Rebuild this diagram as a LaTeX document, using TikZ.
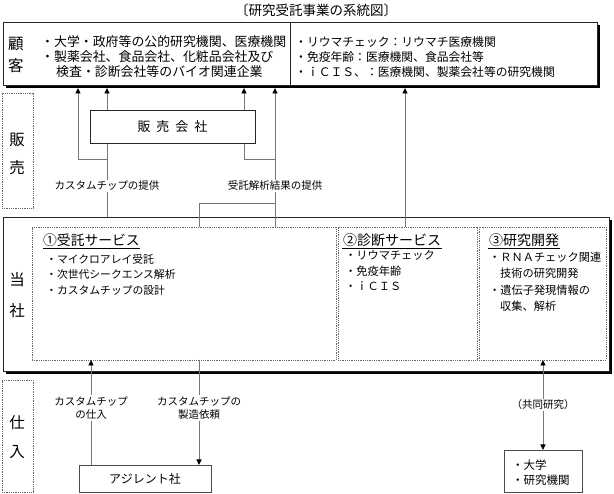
\documentclass[tikz,border=0pt]{standalone}
\usepackage{fontspec}
\setmainfont{Noto Sans CJK JP}
\usetikzlibrary{arrows.meta,shadows}
\newcommand{\fs}[2]{\fontsize{#1}{#2}\selectfont}
\begin{document}
\begin{tikzpicture}[x=1pt,y=-1pt,
  conn/.style={draw={rgb,255:red,120;green,120;blue,120}, line width=0.9pt},
  tipend/.style={-{Triangle[length=5.5pt,width=5pt,color=black]}},
  tipboth/.style={{Triangle[length=5.5pt,width=5pt,color=black]}-{Triangle[length=5.5pt,width=5pt,color=black]}},
  box/.style={draw=black!85, line width=0.8pt, fill=white, inner sep=0pt, outer sep=0pt, anchor=north west},
  shbox/.style={box, drop shadow={shadow xshift=3pt, shadow yshift=-3pt, opacity=1, fill=black}},
  dotbox/.style={draw=black!60, dash pattern=on 1pt off 0.8pt, line width=0.7pt, inner sep=0pt, outer sep=0pt, anchor=north west},
  txt/.style={inner sep=0pt, anchor=west},
  lbl/.style={fill=white, inner sep=1.5pt, align=center, font=\fs{10.5}{13}},
  big/.style={inner sep=0pt, font=\fs{15.5}{16}}
]
\useasboundingbox (0,0) rectangle (614,494);

% title
\node[inner sep=0pt, font=\fs{13.5}{15}] (title) at (316,10) {〔研究受託事業の系統図〕};

% customer box
\node[shbox, minimum width=594pt, minimum height=63pt] (customer) at (3,22) {};
\coordinate (dv) at (290,0);
\draw[black!85, line width=0.8pt] (customer.north -| dv) -- (customer.south -| dv);
\node[big] (k1) at (16,44) {顧};
\node[big] (k2) at (16,66) {客};
\node[txt, font=\fs{12.9}{14}] (c1) at (41,42) {・大学・政府等の公的研究機関、医療機関};
\node[txt, font=\fs{12.9}{14}] (c2) at (41,57) {・製薬会社、食品会社、化粧品会社及び};
\node[txt, font=\fs{12.9}{14}] (c3) at (56,72) {検査・診断会社等のバイオ関連企業};
\node[txt, font=\fs{11.8}{14}] (c4) at (295,42) {・リウマチェック：リウマチ医療機関};
\node[txt, font=\fs{11.8}{14}] (c5) at (295,57) {・免疫年齢：医療機関、食品会社等};
\node[txt, font=\fs{11.8}{14}] (c6) at (295,72) {・ｉＣＩＳ、：医療機関、製薬会社等の研究機関};
\coordinate (cb) at ([yshift=-3pt]customer.south);

% side labels
\node[dotbox, minimum width=31pt, minimum height=115pt] (side1) at (2,93) {};
\node[big] (h1) at (17,140) {販};
\node[big] (h2) at (17,168) {売};
\node[dotbox, minimum width=31pt, minimum height=112pt] (side2) at (2,380) {};
\node[big] (p1) at (17,423) {仕};
\node[big] (p2) at (17,452) {入};

% company box
\node[shbox, minimum width=606pt, minimum height=154pt] (company) at (3,217) {};
\node[big] (t1) at (17,280) {当};
\node[big] (t2) at (17,311) {社};
\node[dotbox, minimum width=304pt, minimum height=133pt] (s1) at (32,227) {};
\node[dotbox, minimum width=139pt, minimum height=133pt] (s2) at (338,227) {};
\node[dotbox, minimum width=127pt, minimum height=133pt] (s3) at (479,227) {};

% service 1
\node[txt, font=\fs{13.8}{15}] (s1h) at (43,240) {①受託サービス};
\draw[line width=0.6pt] ([yshift=-1.5pt]s1h.south west) -- ([yshift=-1.5pt]s1h.south east);
\node[txt, font=\fs{10.8}{13}] (s1a) at (46,259) {・マイクロアレイ受託};
\node[txt, font=\fs{10.8}{13}] (s1b) at (46,274) {・次世代シークエンス解析};
\node[txt, font=\fs{10.8}{13}] (s1c) at (46,290) {・カスタムチップの設計};
% service 2
\node[txt, font=\fs{14}{15}] (s2h) at (343,240) {②診断サービス};
\draw[line width=0.6pt] ([yshift=-1.5pt,xshift=-1pt]s2h.south west) -- ([yshift=-1.5pt,xshift=1pt]s2h.south east);
\node[txt, font=\fs{11.2}{13}] (s2a) at (345,255) {・リウマチェック};
\node[txt, font=\fs{11.2}{13}] (s2b) at (345,271) {・免疫年齢};
\node[txt, font=\fs{11.2}{13}] (s2c) at (345,286) {・ｉＣＩＳ};
% service 3
\node[txt, font=\fs{14}{15}] (s3h) at (489,240) {③研究開発};
\draw[line width=0.6pt] ([yshift=-1.5pt,xshift=-1pt]s3h.south west) -- ([yshift=-1.5pt,xshift=1pt]s3h.south east);
\node[txt, font=\fs{11.2}{13}] (s3a) at (489,257) {・ＲＮＡチェック関連};
\node[txt, font=\fs{11.2}{13}] (s3b) at (500,273) {技術の研究開発};
\node[txt, font=\fs{11.2}{13}] (s3c) at (489,290) {・遺伝子発現情報の};
\node[txt, font=\fs{11.2}{13}] (s3d) at (500,306) {収集、解析};

% connector columns
\coordinate (xa) at (78,0);
\coordinate (xb) at (107,0);
\coordinate (xc) at (244,0);
\coordinate (xd) at (275,0);
\coordinate (xe) at (199,0);
\coordinate (xf) at (405,0);
\coordinate (xg) at (91,0);
\coordinate (xh) at (543,0);
\coordinate (yb) at (0,159);
\coordinate (yd) at (0,203);

% upper connectors
\draw[conn, tipend] (company.north -| xb) -- (cb -| xb);
\draw[conn, tipend] (yb -| xb) -| (cb -| xa);
\draw[conn, tipend] (s1.north -| xd) -- (cb -| xd);
\draw[conn] (s1.north -| xe) |- (yd -| xd);
\draw[conn, tipend] (yb -| xd) -| (cb -| xc);
\draw[conn, tipend] (s2.north -| xf) -- (cb -| xf);

% sales company
\node[box, minimum width=165pt, minimum height=33pt, font=\fs{13}{15}] (sales) at (90,110) {販\hspace{6pt}売\hspace{6pt}会\hspace{6pt}社};

\node[lbl] (l1) at (107,186) {カスタムチップの提供};
\node[lbl] (l2) at (275,186) {受託解析結果の提供};

% lower boxes
\node[box, draw=black!70, minimum width=132pt, minimum height=27pt, font=\fs{12}{14}] (agilent) at (79,465) {アジレント社};
\node[box, draw=black!70, minimum width=78pt, minimum height=42pt] (univ) at (504,450) {};
\node[txt, font=\fs{11.5}{13}] (u1) at (512,465) {・大学};
\node[txt, font=\fs{11.5}{13}] (u2) at (512,480) {・研究機関};

% lower connectors
\draw[conn, tipend] (agilent.north -| xg) -- (s1.south -| xg);
\draw[conn, tipend] (s1.south -| xe) -- (agilent.north -| xe);
\draw[conn, tipboth] (s3.south -| xh) -- (univ.north -| xh);

\node[lbl] (l3) at (91,408) {カスタムチップ\\の仕入};
\node[lbl] (l4) at (199,408) {カスタムチップの\\製造依頼};
\node[lbl] (l5) at (543,405) {（共同研究）};
\end{tikzpicture}
\end{document}
